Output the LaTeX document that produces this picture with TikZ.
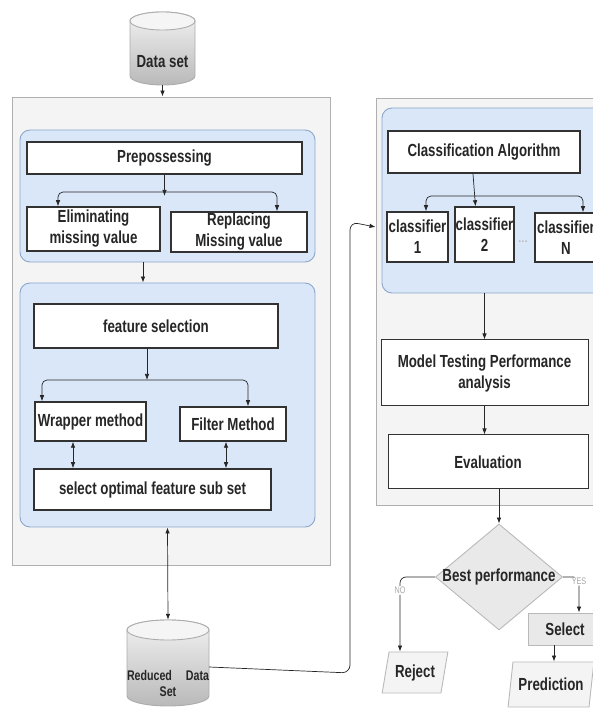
\documentclass[tikz,border=0pt]{standalone}
\usepackage{fontspec}
\setmainfont{Liberation Sans}[FakeStretch=0.76]
\usetikzlibrary{arrows.meta,shapes.geometric}

\definecolor{grpfill}{RGB}{218,231,248}
\definecolor{grpline}{RGB}{140,166,204}
\definecolor{panfill}{RGB}{244,244,244}
\definecolor{panline}{RGB}{175,175,175}
\definecolor{boxline}{RGB}{50,50,50}

\tikzset{
  panel/.style={draw=panline, fill=panfill, line width=0.9pt, inner sep=0pt},
  group/.style={draw=grpline, fill=grpfill, line width=0.9pt, rounded corners=10pt, inner sep=0pt},
  box/.style={draw=boxline, fill=white, line width=1.5pt, inner sep=0pt, align=center,
    text=black!85, font=\bfseries\fontsize{17.5}{21}\selectfont},
  grey/.style={draw=gray!55, fill=gray!17, line width=0.9pt, inner sep=0pt,
    text=black!85, font=\bfseries\fontsize{17.5}{21}\selectfont},
  slant/.style={grey, fill=gray!9, trapezium, trapezium left angle=72,
    trapezium right angle=108, trapezium stretches=true},
  cyl/.style={top color=gray!10, bottom color=gray!55, draw=gray!65, line width=0.9pt},
  arr/.style={-{Latex[length=6pt,width=4.5pt]}, line width=0.7pt, black!85},
  dblarr/.style={{Latex[length=6pt,width=4.5pt]}-{Latex[length=6pt,width=4.5pt]}, line width=0.7pt, black!85},
  lbl/.style={fill=white, inner sep=1pt, text=gray!70, font=\fontsize{9.5}{10}\selectfont}
}

\begin{document}
\begin{tikzpicture}[x=1pt,y=1pt]
\useasboundingbox (0,0) rectangle (593,710);

% panels
\node[panel, minimum width=318pt, minimum height=468pt] (lpanel) at (171,379) {};
\node[panel, minimum width=224pt, minimum height=407pt] (rpanel) at (488,408.5) {};
\node[group, minimum width=295pt, minimum height=132pt] (g1) at (167.5,514) {};
\node[group, minimum width=295pt, minimum height=244pt] (g2) at (167.5,305) {};
\node[group, minimum width=223pt, minimum height=185pt] (g3) at (493.5,509.5) {};

% data bases
\shade[cyl] (130,689) -- (130,634) arc[start angle=180, end angle=360, x radius=32.5, y radius=9]
  -- (195,689) arc[start angle=0, end angle=180, x radius=32.5, y radius=9] -- cycle;
\filldraw[fill=gray!8, draw=gray!65, line width=0.9pt] (162.5,689) ellipse[x radius=32.5, y radius=9];
\node[minimum width=65pt, minimum height=73pt, inner sep=0pt, text=black!85,
  font=\bfseries\fontsize{17.5}{21}\selectfont] (data) at (162.5,661.5) {\smash{\raisebox{-19.5pt}{Data set}}};

\shade[cyl] (127,80) -- (127,14) arc[start angle=180, end angle=360, x radius=41, y radius=10]
  -- (209,14) -- (209,80) arc[start angle=0, end angle=180, x radius=41, y radius=10] -- cycle;
\filldraw[fill=gray!8, draw=gray!65, line width=0.9pt] (168,80) ellipse[x radius=41, y radius=10];
\node[minimum width=82pt, minimum height=86pt, inner sep=0pt, text=black!85,
  font=\bfseries\fontsize{14}{17}\selectfont] (red) at (168,47)
  {\smash{\raisebox{-34pt}{\begin{tabular}[b]{@{}c@{}}Reduced\quad Data\\Set\end{tabular}}}};

% left side
\node[box, minimum width=275pt, minimum height=32pt] (prep) at (164.5,552) {Prepossessing};
\node[box, minimum width=133pt, minimum height=44pt] (elim) at (93.5,481) {Eliminating\\missing value};
\node[box, minimum width=136pt, minimum height=40pt] (repl) at (239,478) {Replacing\\Missing value};
\node[box, minimum width=244pt, minimum height=44pt] (fsel) at (156,384) {feature selection};
\node[box, minimum width=111pt, minimum height=39pt] (wrap) at (90.5,288.5) {Wrapper method};
\node[box, minimum width=106pt, minimum height=34pt] (filt) at (233,286) {Filter Method};
\node[box, minimum width=237pt, minimum height=41pt] (opt) at (152.5,220.5) {select optimal feature sub set};

% right side
\node[box, minimum width=192pt, minimum height=42pt] (calg) at (484,558) {Classification Algorithm};
\node[box, minimum width=61pt, minimum height=50pt] (cls1) at (417.5,473) {classifier\\1};
\node[box, minimum width=59pt, minimum height=55pt] (cls2) at (484.5,475.5) {classifier\\2};
\node[box, minimum width=62pt, minimum height=49pt] (clsN) at (566,472.5) {classifier\\N};
\node[text=gray!70, font=\fontsize{15}{16}\selectfont] (dots) at (523,468) {...};
\node[box, line width=1pt, minimum width=207pt, minimum height=66pt] (model) at (484.5,337) {Model Testing Performance\\analysis};
\node[box, line width=1pt, minimum width=200pt, minimum height=54pt] (eval) at (488,248) {Evaluation};

\node[grey, diamond, minimum width=127pt, minimum height=106pt] (best) at (499,133) {\makebox[0pt]{Best performance}};
\node[grey, minimum width=74pt, minimum height=32pt] (sel) at (565,81) {Select};
\node[slant, minimum width=66pt, minimum height=41pt] (rej) at (415,37.5) {Reject};
\node[slant, minimum width=86pt, minimum height=45pt] (pred) at (551,25.5) {Prediction};

% arrows
\coordinate (br1) at (164.5,518);
\coordinate (br2) at (147,330);
\coordinate (br3) at (475,514);

\draw[arr] (data.south) -- (data.south |- lpanel.north);
\draw[arr] (prep.south) -- ([yshift=-4pt]br1);
\draw[arr, rounded corners=5pt] (br1) -| ([xshift=-35.5pt]elim.north);
\draw[arr, rounded corners=5pt] (br1) -| ([xshift=38pt]repl.north);
\draw[arr] ([xshift=-24.5pt]g1.south) -- ([xshift=-24.5pt]g2.north);

\draw[arr] ([xshift=-9pt]fsel.south) -- (br2);
\draw[arr, rounded corners=5pt] (br2) -| ([xshift=-48.5pt]wrap.north);
\draw[arr, rounded corners=5pt] (br2) -| ([xshift=15pt]filt.north);
\draw[dblarr] ([xshift=-17.5pt]wrap.south) -- ([xshift=-17.5pt]wrap.south |- opt.north);
\draw[dblarr] ([xshift=-7pt]filt.south) -- ([xshift=-7pt]filt.south |- opt.north);
\draw[dblarr] (g2.south) -- (red.north);

\draw[arr, rounded corners=8pt] ([yshift=-4pt]red.east) -- (350,37) -- (350,488) -- ([yshift=74.5pt]rpanel.west);

\draw[arr] ([xshift=-11pt]calg.south) -- ([xshift=-9pt]cls2.north);
\draw[arr, rounded corners=5pt] (br3) -| ([xshift=8.5pt]cls1.north);
\draw[arr, rounded corners=5pt] (br3) -| ([xshift=17pt]clsN.north);
\draw[arr] (model.north |- g3.south) -- (model.north);
\draw[arr] (model.south) -- (model.south |- eval.north);
\draw[arr] ([xshift=11pt]eval.south) -- (best.north);

\draw[arr, rounded corners=6pt] (best.west) -| node[lbl, pos=0.59] (no) {NO} ([xshift=-15pt]rej.north);
\draw[arr, rounded corners=6pt] (best.east) -| node[lbl, pos=0.56] (yes) {YES} ([xshift=14pt]sel.north);
\draw[arr] ([xshift=-11pt]sel.south) -- ([xshift=-11pt]sel.south |- pred.north);

\end{tikzpicture}
\end{document}
